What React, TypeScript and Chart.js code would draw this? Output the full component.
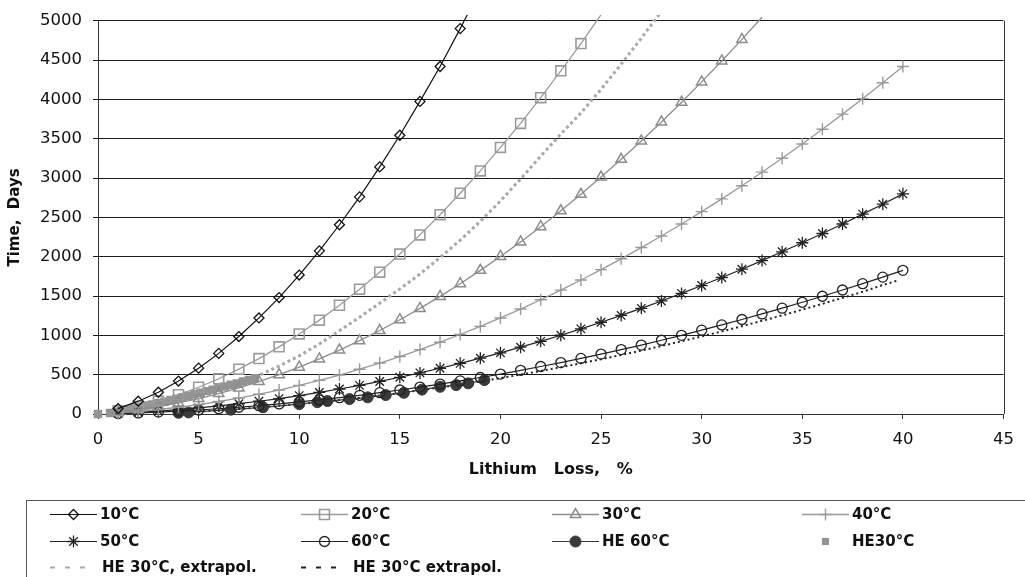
import React, { useEffect, useRef } from 'react';
import { Chart, registerables } from 'chart.js';
import { drawPoint } from 'chart.js/helpers';

Chart.register(...registerables);

const FONT = '"DejaVu Sans", sans-serif';

// Lithium loss steps (%) used by the model curves
const lossSteps = [
  1, 2, 3, 4, 5, 6, 7, 8, 9, 10, 11, 12, 13, 14, 15, 16, 17, 18, 19, 20,
  21, 22, 23, 24, 25, 26, 27, 28, 29, 30, 31, 32, 33, 34, 35, 36, 37, 38, 39, 40,
];

// Time (days) to reach each loss step, per storage temperature
const days10C = [69, 163, 277, 419, 583, 771, 985, 1222, 1481, 1767, 2075, 2407, 2762, 3143, 3545, 3976, 4420, 4902, 5400];
const days20C = [41, 96, 164, 245, 340, 448, 570, 705, 854, 1018, 1194, 1383, 1588, 1804, 2034, 2278, 2535, 2808, 3092, 3391, 3696, 4023, 4365, 4712, 5080];
const days30C = [23, 54, 94, 141, 197, 260, 332, 412, 500, 596, 700, 813, 933, 1062, 1199, 1343, 1496, 1657, 1827, 2004, 2189, 2383, 2585, 2794, 3013, 3239, 3473, 3715, 3966, 4224, 4490, 4765, 5047];
const days40C = [14, 33, 57, 86, 120, 159, 203, 252, 305, 364, 428, 496, 570, 648, 731, 819, 913, 1011, 1114, 1222, 1335, 1453, 1576, 1704, 1836, 1974, 2117, 2264, 2417, 2574, 2736, 2904, 3076, 3253, 3435, 3622, 3814, 4011, 4213, 4420];
const days50C = [9, 22, 37, 56, 78, 103, 131, 162, 196, 234, 274, 318, 364, 414, 467, 523, 582, 644, 710, 778, 850, 924, 1002, 1083, 1167, 1254, 1344, 1438, 1534, 1634, 1736, 1842, 1951, 2063, 2178, 2296, 2417, 2542, 2669, 2800];
const days60C = [6, 14, 24, 37, 51, 67, 86, 106, 128, 153, 179, 208, 238, 271, 305, 342, 381, 421, 464, 508, 555, 604, 654, 707, 762, 819, 877, 938, 1001, 1066, 1133, 1202, 1273, 1346, 1421, 1498, 1577, 1658, 1741, 1827];

// HE cells measured at 60 °C
const heLoss60 = [4.0, 4.5, 6.6, 8.2, 10.0, 10.9, 11.4, 12.5, 13.4, 14.3, 15.2, 16.1, 17.0, 17.8, 18.4, 19.2];
const heDays60 = [15, 20, 55, 85, 125, 150, 165, 190, 212, 241, 270, 310, 346, 368, 390, 431];

// HE cells measured at 30 °C
const heLoss30 = [0, 0.6, 0.9, 1.2, 1.5, 1.8, 2.1, 2.4, 2.7, 3.0, 3.3, 3.6, 3.9, 4.2, 4.5, 4.8, 5.1, 5.4, 5.7, 6.0, 6.3, 6.6, 6.9, 7.2, 7.5, 7.8];
const heDays30 = [0, 14, 27, 43, 57, 75, 89, 107, 122, 141, 157, 177, 193, 214, 231, 252, 269, 291, 309, 331, 349, 371, 389, 412, 431, 455];

// HE 30 °C extrapolation (grey dotted)
const extrapLossGrey = [7.8, 8, 9, 10, 11, 12, 13, 14, 15, 16, 17, 18, 19, 20, 21, 22, 23, 24, 25, 26, 27, 28];
const extrapDaysGrey = [470, 490, 610, 740, 890, 1060, 1230, 1410, 1590, 1780, 1990, 2210, 2450, 2710, 2990, 3280, 3560, 3830, 4130, 4450, 4780, 5120];

// HE 30 °C extrapolation (black dotted)
const extrapLossBlack = [4, 5, 6, 7, 8, 9, 10, 11, 12, 13, 14, 15, 16, 17, 18, 19, 20, 21, 22, 23, 24, 25, 26, 27, 28, 29, 30, 31, 32, 33, 34, 35, 36, 37, 38, 39, 39.7];
const extrapDaysBlack = [18, 30, 46, 63, 83, 104, 127, 151, 177, 205, 235, 267, 301, 337, 375, 415, 457, 501, 547, 595, 645, 697, 751, 807, 865, 925, 987, 1051, 1117, 1185, 1255, 1327, 1401, 1477, 1555, 1640, 1695];

const seriesLabels = [
  '10°C', '20°C', '30°C', '40°C',
  '50°C', '60°C', 'HE 60°C', 'HE30°C',
  'HE 30°C, extrapol.', 'HE 30°C extrapol.',
];

const xTicksMax = 45;
const yTicksMax = 5000;

type Style = {
  color: string;
  fill: string;
  pointStyle: string;
  radius: number;
  lineWidth: number;
  markerWidth: number;
  showLine: boolean;
  dash: number[];
  legendDash?: number[];
};

const seriesStyles: Style[] = [
  { color: '#111111', fill: 'rgba(0,0,0,0)', pointStyle: 'rectRot', radius: 5, lineWidth: 1.2, markerWidth: 1.3, showLine: true, dash: [] },
  { color: '#9a9a9a', fill: 'rgba(0,0,0,0)', pointStyle: 'rect', radius: 7, lineWidth: 1.3, markerWidth: 1.6, showLine: true, dash: [] },
  { color: '#8c8c8c', fill: 'rgba(0,0,0,0)', pointStyle: 'triangle', radius: 6, lineWidth: 1.3, markerWidth: 1.5, showLine: true, dash: [] },
  { color: '#999999', fill: 'rgba(0,0,0,0)', pointStyle: 'cross', radius: 6, lineWidth: 1.3, markerWidth: 1.4, showLine: true, dash: [] },
  { color: '#222222', fill: 'rgba(0,0,0,0)', pointStyle: 'star', radius: 6, lineWidth: 1.2, markerWidth: 1.3, showLine: true, dash: [] },
  { color: '#222222', fill: 'rgba(0,0,0,0)', pointStyle: 'circle', radius: 5, lineWidth: 1.2, markerWidth: 1.3, showLine: true, dash: [] },
  { color: '#3a3a3a', fill: '#3a3a3a', pointStyle: 'circle', radius: 5.5, lineWidth: 1.2, markerWidth: 1, showLine: true, dash: [] },
  { color: '#939393', fill: '#939393', pointStyle: 'rect', radius: 6, lineWidth: 0, markerWidth: 0, showLine: false, dash: [] },
  { color: '#a8a8a8', fill: '#a8a8a8', pointStyle: 'circle', radius: 0, lineWidth: 3, markerWidth: 0, showLine: true, dash: [3, 3], legendDash: [5, 10] },
  { color: '#222222', fill: '#222222', pointStyle: 'circle', radius: 0, lineWidth: 2, markerWidth: 0, showLine: true, dash: [2, 3], legendDash: [5, 10] },
];

const pairs = (xs: number[], ys: number[]) => ys.map((y, i) => ({ x: xs[i], y }));

const seriesData = [
  pairs(lossSteps, days10C),
  pairs(lossSteps, days20C),
  pairs(lossSteps, days30C),
  pairs(lossSteps, days40C),
  pairs(lossSteps, days50C),
  pairs(lossSteps, days60C),
  pairs(heLoss60, heDays60),
  pairs(heLoss30, heDays30),
  pairs(extrapLossGrey, extrapDaysGrey),
  pairs(extrapLossBlack, extrapDaysBlack),
];

// Right edge of the plot frame
const plotFramePlugin = {
  id: 'plotFrame',
  beforeDatasetsDraw(chart: any) {
    const { ctx, chartArea: a } = chart;
    ctx.save();
    ctx.strokeStyle = '#333';
    ctx.lineWidth = 1;
    ctx.beginPath();
    const xr = Math.round(a.right) + 0.5;
    ctx.moveTo(xr, a.top);
    ctx.lineTo(xr, a.bottom);
    ctx.stroke();
    ctx.restore();
  },
};

// Boxed four-column legend under the plot
const LEGEND_COL_X = [50, 301, 552, 802];
const LEGEND_ROW_Y = [514, 541, 567];

const bottomLegendPlugin = {
  id: 'bottomLegend',
  afterDraw(chart: any) {
    const ctx = chart.ctx as CanvasRenderingContext2D;
    ctx.save();
    ctx.strokeStyle = '#555';
    ctx.lineWidth = 1;
    ctx.strokeRect(26.5, 500.5, 1100, 120);
    seriesLabels.forEach((label, i) => {
      const st = seriesStyles[i];
      const x0 = LEGEND_COL_X[i % 4];
      const y = LEGEND_ROW_Y[Math.floor(i / 4)];
      const dashed = !!st.legendDash;
      const len = dashed ? 37 : 47;
      if (st.showLine) {
        ctx.save();
        ctx.strokeStyle = st.color;
        ctx.lineWidth = dashed ? 2 : st.lineWidth;
        ctx.setLineDash(st.legendDash || []);
        ctx.beginPath();
        ctx.moveTo(x0, y + 0.5);
        ctx.lineTo(x0 + len, y + 0.5);
        ctx.stroke();
        ctx.restore();
      }
      if (st.radius > 0) {
        ctx.save();
        ctx.strokeStyle = st.color;
        ctx.fillStyle = st.fill;
        ctx.lineWidth = st.markerWidth;
        const r = st.showLine ? st.radius : 5;
        drawPoint(ctx, { pointStyle: st.pointStyle as any, rotation: 0, radius: r, borderWidth: st.markerWidth }, x0 + 23.5, y + 0.5);
        ctx.restore();
      }
      ctx.fillStyle = '#111';
      ctx.font = `bold 15px ${FONT}`;
      ctx.textBaseline = 'middle';
      ctx.textAlign = 'left';
      ctx.fillText(label, x0 + (dashed ? 52 : 50), y + 1);
    });
    ctx.restore();
  },
};

export default function App() {
  const canvasRef = useRef<HTMLCanvasElement | null>(null);

  useEffect(() => {
    const canvas = canvasRef.current;
    if (!canvas) return;

    const datasets = seriesData.map((data, i) => {
      const st = seriesStyles[i];
      return {
        label: seriesLabels[i],
        data,
        showLine: st.showLine,
        borderColor: st.color,
        borderWidth: st.lineWidth,
        borderDash: st.dash,
        backgroundColor: st.fill,
        pointStyle: st.pointStyle,
        pointRadius: (c: any) => (st.radius === 0 || (c.raw && c.raw.y > yTicksMax) ? 0 : st.radius),
        pointBorderColor: st.color,
        pointBackgroundColor: st.fill,
        pointBorderWidth: st.markerWidth,
        pointHoverRadius: 0,
        tension: 0,
        clip: { left: 8, top: 6, right: 8, bottom: 8 },
      };
    });

    const chart = new Chart(canvas, {
      type: 'scatter',
      data: { datasets: datasets as any },
      options: {
        responsive: false,
        devicePixelRatio: 1,
        animation: false,
        events: [],
        layout: { padding: { left: 0, top: 20, right: 12, bottom: 93 } },
        plugins: {
          legend: { display: false },
          tooltip: { enabled: false },
        },
        scales: {
          x: {
            type: 'linear',
            min: 0,
            max: xTicksMax,
            afterFit: (s: any) => { s.height = 70; },
            ticks: {
              stepSize: 5,
              color: '#111',
              font: { family: FONT, size: 16.5 },
              padding: 11,
              maxRotation: 0,
              callback: (v: any) => String(v),
            },
            grid: { drawOnChartArea: false, drawTicks: true, tickLength: 5, color: '#333' },
            border: { color: '#333', width: 1 },
            title: {
              display: true,
              text: 'Lithium   Loss,   %',
              color: '#111',
              font: { family: FONT, size: 16, weight: 'bold' },
              padding: { top: 0, bottom: 5 },
            },
          },
          y: {
            type: 'linear',
            min: 0,
            max: yTicksMax,
            afterFit: (s: any) => { s.width = 98; },
            ticks: {
              stepSize: 500,
              color: '#111',
              font: { family: FONT, size: 16.5 },
              padding: 11,
              callback: (v: any) => String(v),
            },
            grid: { color: '#1a1a1a', lineWidth: 1, tickLength: 5 },
            border: { color: '#333', width: 1 },
            title: {
              display: true,
              text: 'Time,  Days',
              color: '#111',
              font: { family: FONT, size: 15, weight: 'bold' },
              padding: { top: 6, bottom: 0 },
            },
          },
        },
      } as any,
      plugins: [plotFramePlugin, bottomLegendPlugin],
    });

    return () => chart.destroy();
  }, []);

  return (
    <div style={{ position: 'absolute', left: 0, top: 0, width: 1025, height: 577, background: '#fff' }}>
      <canvas ref={canvasRef} width={1025} height={577} style={{ display: 'block', width: 1025, height: 577 }} />
    </div>
  );
}
